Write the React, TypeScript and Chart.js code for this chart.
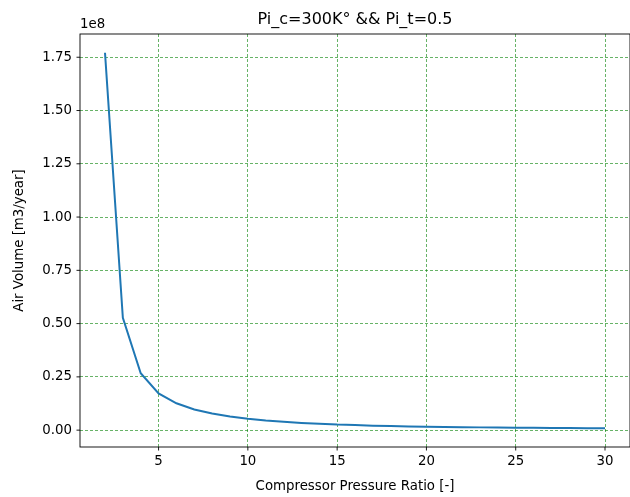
import React, { useEffect, useRef } from "react";
import { Chart, registerables } from "chart.js";

Chart.register(...registerables);

// Compressor pressure ratio (x) and the resulting yearly air volume (y, m3/year)
const pressureRatio = [
  2, 3, 4, 5, 6, 7, 8, 9, 10, 11, 12, 13, 14, 15, 16, 17, 18, 19, 20,
  21, 22, 23, 24, 25, 26, 27, 28, 29, 30,
];
const airVolume = [
  1.771e8, 0.527e8, 0.267e8, 0.172e8, 0.126e8, 0.097e8, 0.078e8, 0.064e8,
  0.053e8, 0.045e8, 0.039e8, 0.034e8, 0.03e8, 0.026e8, 0.024e8, 0.021e8,
  0.019e8, 0.017e8, 0.016e8, 0.015e8, 0.014e8, 0.013e8, 0.012e8, 0.011e8,
  0.011e8, 0.01e8, 0.01e8, 0.009e8, 0.009e8,
];
const xTickValues = [5, 10, 15, 20, 25, 30];
const yTickValues = [0, 0.25e8, 0.5e8, 0.75e8, 1.0e8, 1.25e8, 1.5e8, 1.75e8];
const yScaleExponent = 1e8;

const titleText = "Pi_c=300K° && Pi_t=0.5";
const xLabel = "Compressor Pressure Ratio [-]";
const yLabel = "Air Volume [m3/year]";
const offsetText = "1e8";

const FONT = "'DejaVu Sans', sans-serif";
const LINE_COLOR = "#1f77b4";
const GRID_COLOR = "rgba(0,128,0,0.75)";

// 5% margins around the data on both axes
function paddedRange(values: number[]) {
  const lo = Math.min(...values);
  const hi = Math.max(...values);
  const m = (hi - lo) * 0.05;
  return [lo - m, hi + m];
}

const framePlugin = {
  id: "frame",
  afterDraw(chart: any) {
    const { ctx, chartArea } = chart;
    const { left, right, top, bottom } = chartArea;
    const xs = chart.scales.x;
    const ys = chart.scales.y;
    ctx.save();

    // spines (the right one sits just past the canvas edge)
    ctx.strokeStyle = "#000";
    ctx.lineWidth = 0.9;
    ctx.setLineDash([]);
    ctx.strokeRect(left, top, right - left, bottom - top);

    // outward tick marks
    ctx.beginPath();
    xTickValues.forEach((v) => {
      const px = xs.getPixelForValue(v);
      ctx.moveTo(px, bottom);
      ctx.lineTo(px, bottom + 3.5);
    });
    yTickValues.forEach((v) => {
      const py = ys.getPixelForValue(v);
      ctx.moveTo(left, py);
      ctx.lineTo(left - 3.5, py);
    });
    ctx.stroke();

    ctx.fillStyle = "#000";
    const cx = (left + right) / 2;

    // title
    ctx.font = `16px ${FONT}`;
    ctx.textAlign = "center";
    ctx.textBaseline = "alphabetic";
    ctx.fillText(titleText, cx, 24);

    // axis exponent
    ctx.font = `13.33px ${FONT}`;
    ctx.textAlign = "left";
    ctx.fillText(offsetText, left, 28);

    // x axis title
    ctx.textAlign = "center";
    ctx.textBaseline = "middle";
    ctx.fillText(xLabel, cx, 487);

    // y axis title
    ctx.translate(20, (top + bottom) / 2);
    ctx.rotate(-Math.PI / 2);
    ctx.fillText(yLabel, 0, 0);

    ctx.restore();
  },
};

export default function App() {
  const canvasRef = useRef<HTMLCanvasElement | null>(null);

  useEffect(() => {
    if (!canvasRef.current) return;
    const [yMin, yMax] = paddedRange(airVolume);
    const [xMin, xMax] = paddedRange(pressureRatio);

    const chart = new Chart(canvasRef.current, {
      type: "line",
      data: {
        datasets: [
          {
            data: pressureRatio.map((x, i) => ({ x, y: airVolume[i] })),
            borderColor: LINE_COLOR,
            borderWidth: 2,
            pointRadius: 0,
            tension: 0,
            fill: false,
          },
        ],
      },
      options: {
        responsive: false,
        animation: false,
        layout: { padding: { top: 34, right: -3, left: 0, bottom: 0 } },
        plugins: {
          legend: { display: false },
          title: { display: false },
          tooltip: { enabled: false },
        },
        scales: {
          x: {
            type: "linear",
            min: xMin,
            max: xMax,
            afterBuildTicks: (s: any) => {
              s.ticks = xTickValues.map((value) => ({ value }));
            },
            afterFit: (s: any) => {
              s.height = 50;
            },
            grid: { color: GRID_COLOR, lineWidth: 0.8, drawTicks: false },
            border: { display: false, dash: [3, 2] },
            ticks: {
              padding: 7,
              color: "#000",
              maxRotation: 0,
              autoSkip: false,
              font: { family: FONT, size: 13.33 },
              callback: (v: any) => String(v),
            },
          },
          y: {
            type: "linear",
            min: yMin,
            max: yMax,
            afterBuildTicks: (s: any) => {
              s.ticks = yTickValues.map((value) => ({ value }));
            },
            afterFit: (s: any) => {
              s.width = 80;
            },
            grid: { color: GRID_COLOR, lineWidth: 0.8, drawTicks: false },
            border: { display: false, dash: [3, 2] },
            ticks: {
              padding: 8,
              color: "#000",
              autoSkip: false,
              font: { family: FONT, size: 13.33 },
              callback: (v: any) => (Number(v) / yScaleExponent).toFixed(2),
            },
          },
        },
      },
      plugins: [framePlugin],
    });

    return () => chart.destroy();
  }, []);

  return (
    <div
      style={{
        position: "fixed",
        left: 0,
        top: 0,
        width: 630,
        height: 497,
        overflow: "hidden",
        background: "#fff",
      }}
    >
      <canvas ref={canvasRef} width={630} height={497} style={{ display: "block" }} />
    </div>
  );
}
